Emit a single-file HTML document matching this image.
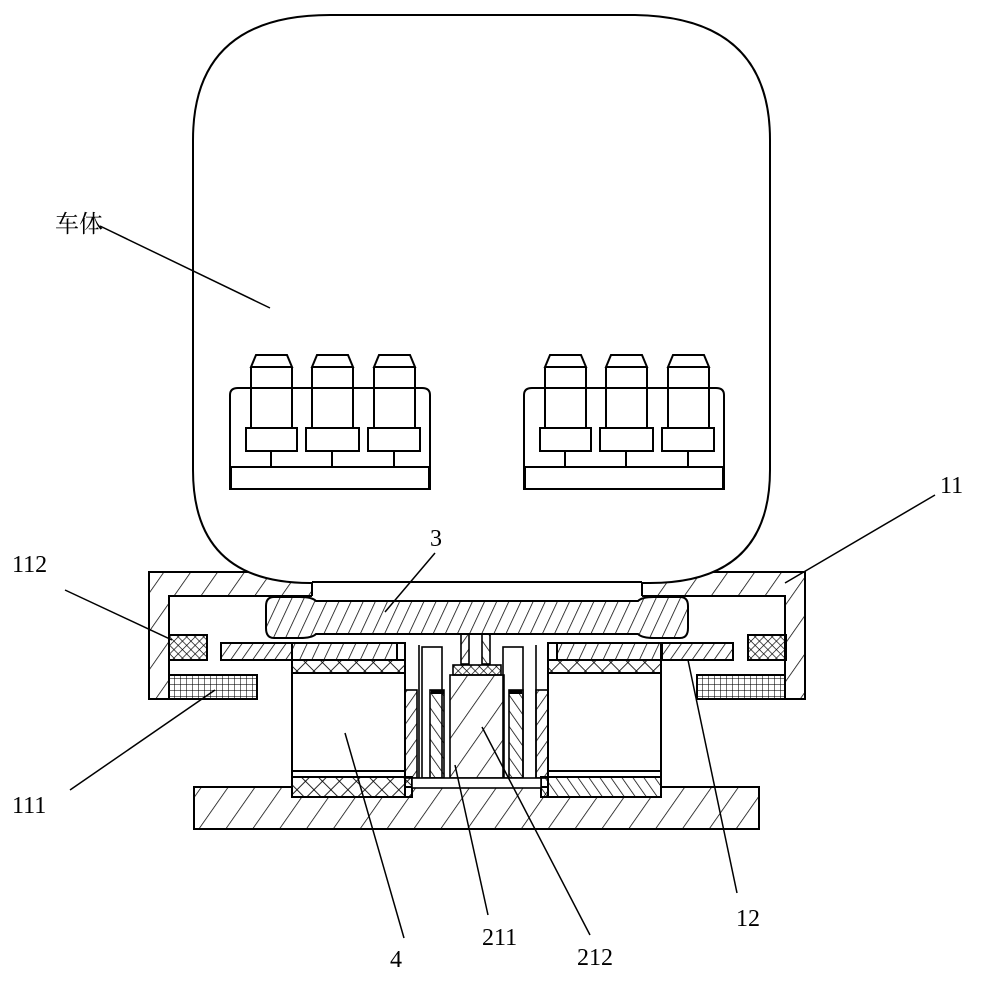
<!DOCTYPE html>
<html><head><meta charset="utf-8"><style>
html,body{margin:0;padding:0;background:#fff;}
svg{display:block}
text{font-family:"Liberation Serif","Noto Serif CJK SC",serif;font-size:24px;fill:#000}
</style></head><body>
<svg width="984" height="981" viewBox="0 0 984 981" xmlns="http://www.w3.org/2000/svg">
<defs>
<pattern id="h1" width="22" height="22" patternUnits="userSpaceOnUse" patternTransform="rotate(35)"><line x1="0" y1="0" x2="0" y2="22" stroke="#000" stroke-width="1.5"/></pattern>
<pattern id="hb" width="11" height="11" patternUnits="userSpaceOnUse" patternTransform="rotate(25)"><line x1="0" y1="0" x2="0" y2="11" stroke="#000" stroke-width="1.5"/></pattern>
<pattern id="h2" width="9" height="9" patternUnits="userSpaceOnUse" patternTransform="rotate(35)"><line x1="0" y1="0" x2="0" y2="9" stroke="#000" stroke-width="1.5"/></pattern>
<pattern id="h3" width="9" height="9" patternUnits="userSpaceOnUse" patternTransform="rotate(-35)"><line x1="0" y1="0" x2="0" y2="9" stroke="#000" stroke-width="1.5"/></pattern>
<pattern id="hx" width="12" height="12" patternUnits="userSpaceOnUse" patternTransform="rotate(45)"><line x1="0" y1="0" x2="0" y2="12" stroke="#000" stroke-width="1.7"/><line x1="0" y1="0" x2="12" y2="0" stroke="#000" stroke-width="1.7"/></pattern>
<pattern id="hxs" width="6" height="6" patternUnits="userSpaceOnUse" patternTransform="rotate(45)"><line x1="0" y1="0" x2="0" y2="6" stroke="#000" stroke-width="1.3"/><line x1="0" y1="0" x2="6" y2="0" stroke="#000" stroke-width="1.3"/></pattern>
<pattern id="grid" width="6" height="6" patternUnits="userSpaceOnUse"><line x1="0" y1="0" x2="0" y2="6" stroke="#000" stroke-width="1.1"/><line x1="0" y1="0" x2="6" y2="0" stroke="#000" stroke-width="1.1"/></pattern>
<g id="conn">
<path d="M230,490 V395 Q230,388 238,388 H422 Q430,388 430,395 V490" fill="none" stroke="#000" stroke-width="2"/>
<rect x="231" y="467" width="198" height="22" fill="none" stroke="#000" stroke-width="2"/>
<g fill="none" stroke="#000" stroke-width="2">
<path d="M251,367 L256,355 H287 L292,367 Z M251,367 V428 M292,367 V428"/>
<rect x="246" y="428" width="51" height="23"/><line x1="271" y1="451" x2="271" y2="467"/>
<path d="M312,367 L317,355 H348 L353,367 Z M312,367 V428 M353,367 V428"/>
<rect x="306" y="428" width="53" height="23"/><line x1="332" y1="451" x2="332" y2="467"/>
<path d="M374,367 L379,355 H410 L415,367 Z M374,367 V428 M415,367 V428"/>
<rect x="368" y="428" width="52" height="23"/><line x1="394" y1="451" x2="394" y2="467"/>
</g></g>
</defs>
<path d="M149,572 H805 V699 H785 V596 H169 V699 H149 Z" fill="url(#h1)" stroke="#000" stroke-width="2"/>
<path d="M193,140 Q193,15 330,15 H630 Q770,15 770,140 V470 Q770,583 650,583 H310 Q193,583 193,470 Z" fill="#fff" stroke="#000" stroke-width="2"/>
<rect x="312" y="582" width="330" height="16" fill="#fff"/>
<line x1="312" y1="582" x2="642" y2="582" stroke="#000" stroke-width="2"/>
<line x1="312" y1="582" x2="312" y2="596" stroke="#000" stroke-width="2"/>
<line x1="642" y1="582" x2="642" y2="596" stroke="#000" stroke-width="2"/>
<use href="#conn"/>
<use href="#conn" transform="translate(294,0)"/>
<path d="M274,597 H300 Q312,597 316,601 H638 Q642,597 654,597 H680 Q688,597 688,606 V628 Q688,638 680,638 H654 Q642,638 638,634 H316 Q312,638 300,638 H274 Q266,638 266,628 V606 Q266,597 274,597 Z" fill="url(#hb)" stroke="#000" stroke-width="2"/>
<rect x="169" y="635" width="38" height="25" fill="url(#hxs)" stroke="#000" stroke-width="2"/>
<rect x="748" y="635" width="38" height="25" fill="url(#hxs)" stroke="#000" stroke-width="2"/>
<rect x="169" y="675" width="88" height="24" fill="url(#grid)" stroke="#000" stroke-width="2"/>
<rect x="697" y="675" width="88" height="24" fill="url(#grid)" stroke="#000" stroke-width="2"/>
<rect x="221" y="643" width="71" height="17" fill="url(#h2)" stroke="#000" stroke-width="2"/>
<rect x="662" y="643" width="71" height="17" fill="url(#h2)" stroke="#000" stroke-width="2"/>
<rect x="194" y="787" width="565" height="42" fill="url(#h1)" stroke="#000" stroke-width="2"/>
<g stroke="#000" stroke-width="2">
<rect x="292" y="643" width="113" height="154" fill="#fff"/>
<rect x="292" y="643" width="105" height="17" fill="url(#hb)"/>
<rect x="292" y="660" width="113" height="13" fill="url(#hx)"/>
<line x1="292" y1="771" x2="405" y2="771"/>
<rect x="292" y="777" width="120" height="20" fill="url(#hx)"/>
<rect x="548" y="643" width="113" height="154" fill="#fff"/>
<rect x="557" y="643" width="104" height="17" fill="url(#hb)"/>
<rect x="548" y="660" width="113" height="13" fill="url(#hx)"/>
<line x1="548" y1="771" x2="661" y2="771"/>
<rect x="541" y="777" width="120" height="20" fill="url(#h3)"/>
</g>
<g stroke="#000" stroke-width="1.6" fill="#fff">
<rect x="405" y="690" width="12" height="88" fill="url(#h2)"/>
<rect x="536" y="690" width="12" height="88" fill="url(#h2)"/>
<line x1="419" y1="645" x2="419" y2="778"/><line x1="536" y1="645" x2="536" y2="778"/>
<rect x="422" y="647" width="20" height="131"/>
<rect x="503" y="647" width="20" height="131"/>
<rect x="430" y="690" width="14" height="88" fill="url(#h3)"/>
<rect x="509" y="690" width="14" height="88" fill="url(#h3)"/>
<rect x="461" y="634" width="8" height="30" fill="url(#h2)"/>
<rect x="482" y="634" width="8" height="30" fill="url(#h3)"/>
<rect x="453" y="665" width="48" height="10" fill="url(#hxs)"/>
<rect x="450" y="675" width="54" height="103" fill="url(#h1)"/>
<rect x="412" y="778" width="129" height="10"/>
</g>
<rect x="431" y="690" width="13" height="4" fill="#000"/>
<rect x="509" y="690" width="13" height="4" fill="#000"/>
<g stroke="#000" stroke-width="1.5">
<line x1="100" y1="226" x2="270" y2="308"/>
<line x1="435" y1="553" x2="385" y2="612"/>
<line x1="935" y1="495" x2="785" y2="583"/>
<line x1="65" y1="590" x2="172" y2="640"/>
<line x1="70" y1="790" x2="215" y2="690"/>
<line x1="404" y1="938" x2="345" y2="733"/>
<line x1="488" y1="915" x2="455" y2="765"/>
<line x1="590" y1="935" x2="482" y2="727"/>
<line x1="737" y1="893" x2="688" y2="660"/>
</g>
<text x="55" y="232">车体</text>
<text x="430" y="546">3</text>
<text x="940" y="493">11</text>
<text x="12" y="572">112</text>
<text x="12" y="813">111</text>
<text x="390" y="967">4</text>
<text x="482" y="945">211</text>
<text x="577" y="965">212</text>
<text x="736" y="926">12</text>
</svg>
</body></html>
